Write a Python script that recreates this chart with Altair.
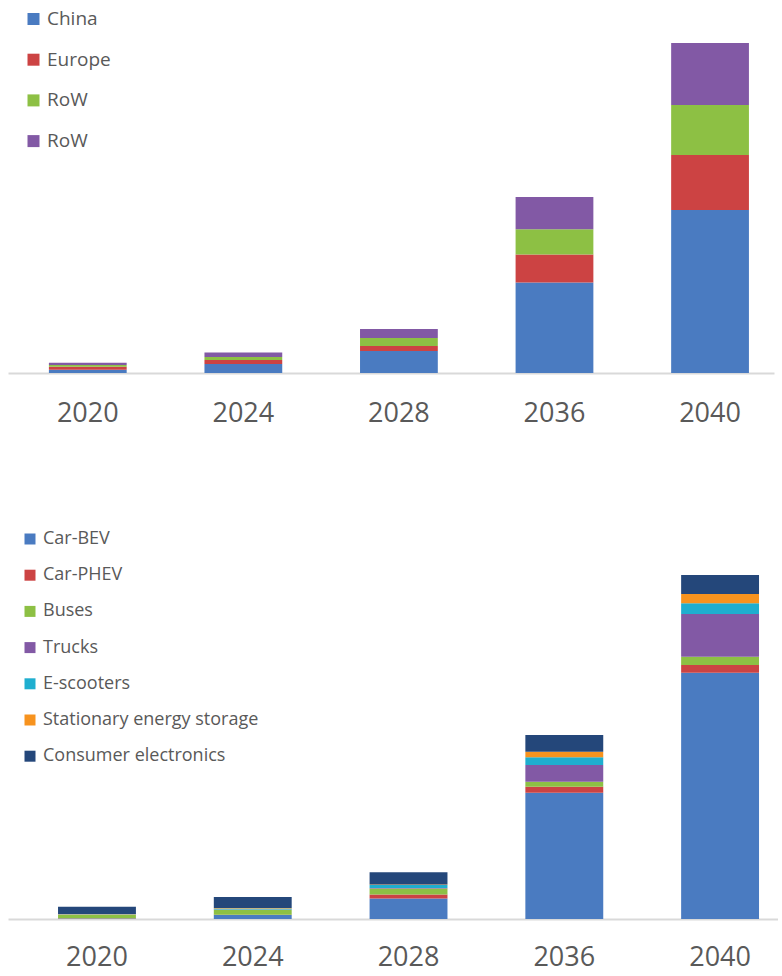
import altair as alt
import pandas as pd

# ---- data (relative units) ----
years = ["2020", "2024", "2028", "2036", "2040"]

regions = ["China", "Europe", "RoW", "RoW (2)"]
china = [3.3, 9.0, 22.0, 90.4, 163.0]
europe = [3.0, 4.0, 5.0, 28.0, 55.0]
row_a = [1.7, 3.0, 8.0, 25.3, 50.0]
row_b = [2.3, 4.5, 9.0, 32.3, 62.0]
region_colors = ["#4a7bc1", "#cc4343", "#8dc044", "#8259a5"]

segments = ["Car-BEV", "Car-PHEV", "Buses", "Trucks", "E-scooters",
            "Stationary energy storage", "Consumer electronics"]
car_bev = [0.5, 4.0, 20.5, 126.3, 246.3]
car_phev = [0.2, 0.3, 4.0, 6.0, 7.7]
buses = [3.5, 5.0, 6.0, 5.0, 8.3]
trucks = [0.2, 0.3, 0.5, 16.7, 42.7]
e_scooters = [0.3, 1.0, 3.0, 7.7, 10.7]
stationary = [0.2, 0.3, 0.5, 5.6, 9.3]
consumer = [7.3, 11.0, 12.3, 16.7, 19.0]
segment_colors = ["#4a7bc1", "#cc4343", "#8dc044", "#8259a5",
                  "#1faecf", "#f7931e", "#24477a"]

# ---- tables ----
rows1 = []
for i, (name, vals) in enumerate(zip(regions, [china, europe, row_a, row_b])):
    for y, v in zip(years, vals):
        rows1.append({"year": y, "series": name, "value": v, "idx": i})
df1 = pd.DataFrame(rows1)

rows2 = []
seg_vals = [car_bev, car_phev, buses, trucks, e_scooters, stationary, consumer]
for i, (name, vals) in enumerate(zip(segments, seg_vals)):
    for y, v in zip(years, vals):
        rows2.append({"year": y, "series": name, "value": v, "idx": i})
df2 = pd.DataFrame(rows2)

FONT = "Open Sans"
LABEL_COLOR = "#595959"


def x_axis(pad, size):
    return alt.Axis(title=None, labelAngle=0, ticks=False, labelFontSize=size,
                    labelColor=LABEL_COLOR, labelFont=FONT, labelPadding=pad,
                    domainColor="#d9d9d9", domainWidth=2, grid=False)


top = alt.Chart(df1).mark_bar(strokeWidth=0).encode(
    x=alt.X("year:N", sort=years,
            scale=alt.Scale(paddingInner=0.5, paddingOuter=0.212, align=0.62),
            axis=x_axis(27, 27)),
    y=alt.Y("value:Q", stack="zero",
            scale=alt.Scale(domain=[0, 373], nice=False), axis=None),
    color=alt.Color("series:N",
                    scale=alt.Scale(domain=regions, range=region_colors),
                    legend=alt.Legend(
                        title=None, orient="none", legendX=16, legendY=9.5,
                        symbolType="square", symbolSize=144, symbolStrokeWidth=0,
                        labelFontSize=19, labelFont=FONT, labelColor=LABEL_COLOR,
                        labelOffset=4, rowPadding=20.7, padding=0,
                        labelExpr="datum.label == 'RoW (2)' ? 'RoW' : datum.label")),
    order=alt.Order("idx:Q", sort="ascending"),
).properties(width=766, height=373)

bottom = alt.Chart(df2).mark_bar(strokeWidth=0).encode(
    x=alt.X("year:N", sort=years,
            scale=alt.Scale(paddingInner=0.5, paddingOuter=0.2215, align=0.725),
            axis=x_axis(25, 27)),
    y=alt.Y("value:Q", stack="zero",
            scale=alt.Scale(domain=[0, 474], nice=False), axis=None),
    color=alt.Color("series:N",
                    scale=alt.Scale(domain=segments, range=segment_colors),
                    legend=alt.Legend(
                        title=None, orient="none", legendX=13, legendY=85,
                        symbolType="square", symbolSize=121, symbolStrokeWidth=0,
                        labelFontSize=18, labelFont=FONT, labelColor=LABEL_COLOR,
                        labelOffset=4, rowPadding=18.2, padding=0, labelLimit=400)),
    order=alt.Order("idx:Q", sort="ascending"),
).properties(width=770, height=474)

chart = alt.vconcat(top, bottom, spacing=19).resolve_scale(
    color="independent", x="independent", y="independent"
).resolve_legend(color="independent").configure(
    padding={"left": 8, "top": 0, "right": 0, "bottom": 4},
    background="white",
).configure_view(stroke=None)

chart.save("out.html", embed_options={"renderer": "svg", "actions": False})
